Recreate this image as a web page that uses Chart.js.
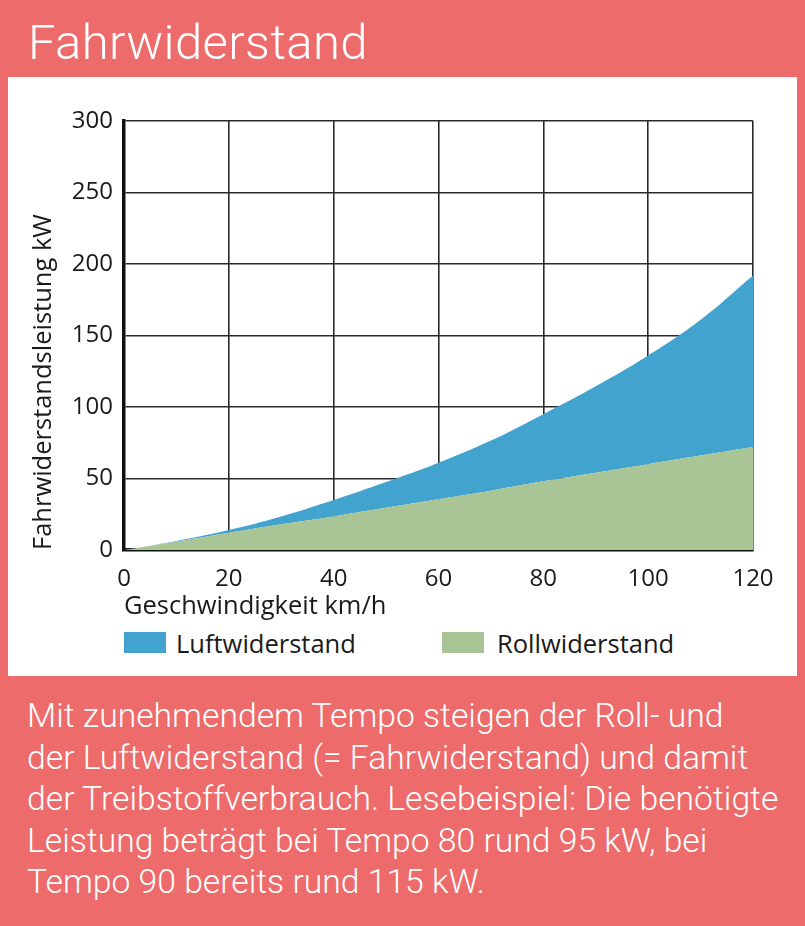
<!DOCTYPE html>
<html>
<head>
<meta charset="utf-8">
<script src="https://cdn.jsdelivr.net/npm/chart.js@4.4.1/dist/chart.umd.min.js"></script>
<style>
  html, body { margin: 0; padding: 0; }
  body { width: 805px; height: 926px; background: #ED6B6B; position: relative; overflow: hidden; font-family: "Open Sans", sans-serif; }
  #title { position: absolute; left: 28px; top: 18px; font-family: Roboto, sans-serif; font-weight: 300; font-size: 49px; line-height: 49px; letter-spacing: 0.35px; color: #fff; white-space: nowrap; }
  #panel { position: absolute; left: 8px; top: 77px; width: 789px; height: 599px; background: #fff; }
  #chart { position: absolute; left: 0; top: 78px; }
  .lg-box { position: absolute; top: 632px; width: 42px; height: 21px; }
  .lg-text { position: absolute; top: 628px; font-size: 25.5px; line-height: 30px; color: #1a1a1a; white-space: nowrap; }
  #caption { position: absolute; left: 27px; top: 695px; font-family: Roboto, sans-serif; font-weight: 300; font-size: 33.7px; line-height: 41.5px; color: #fff; white-space: nowrap; }
</style>
</head>
<body>
<div id="title">Fahrwiderstand</div>
<div id="panel"></div>
<canvas id="chart" width="805" height="544"></canvas>
<div id="legend"></div>
<div id="caption">Mit zunehmendem Tempo steigen der Roll- und<br>der Luftwiderstand (= Fahrwiderstand) und damit<br>der Treibstoffverbrauch. Lesebeispiel: Die benötigte<br>Leistung beträgt bei Tempo 80 rund 95 kW, bei<br>Tempo 90 bereits rund 115 kW.</div>
<script>
// Data
const speed = [0, 10, 20, 30, 40, 50, 60, 70, 80, 90, 100, 110, 120];               // km/h
const rollwiderstand = [0, 5.8, 12, 18, 23.5, 29.5, 35.5, 41.5, 48, 54, 60, 66, 72];  // kW
const fahrwiderstand = [0, 6.3, 14, 23.5, 35, 47.5, 61, 76.5, 95, 114.5, 136, 161, 192]; // kW, total (Roll + Luft)
const xTicks = [0, 20, 40, 60, 80, 100, 120];
const yTicks = [0, 50, 100, 150, 200, 250, 300];
const seriesNames = ['Luftwiderstand', 'Rollwiderstand'];
const seriesColors = ['#43A3CF', '#A9C495'];

const fontFam = '"Open Sans", sans-serif';
const ink = '#1a1a1a';

// HTML legend
const legend = document.getElementById('legend');
const lgX = [[124, 176], [442, 497]];
seriesNames.forEach((n, i) => {
  const b = document.createElement('div');
  b.className = 'lg-box'; b.style.left = lgX[i][0] + 'px'; b.style.background = seriesColors[i];
  const t = document.createElement('div');
  t.className = 'lg-text'; t.style.left = lgX[i][1] + 'px'; t.textContent = n;
  legend.appendChild(b); legend.appendChild(t);
});

const toPts = arr => speed.map((s, i) => ({ x: s, y: arr[i] }));

new Chart(document.getElementById('chart'), {
  type: 'line',
  data: {
    datasets: [
      {
        label: seriesNames[1],
        data: toPts(rollwiderstand),
        borderWidth: 0,
        pointRadius: 0,
        backgroundColor: seriesColors[1],
        fill: 'origin',
        tension: 0.4
      },
      {
        label: seriesNames[0],
        data: toPts(fahrwiderstand),
        borderWidth: 0,
        pointRadius: 0,
        backgroundColor: seriesColors[0],
        fill: '-1',
        tension: 0.4
      }
    ]
  },
  options: {
    responsive: false,
    animation: false,
    layout: { padding: { top: 43, right: 52, left: 0, bottom: 0 } },
    plugins: { legend: { display: false }, tooltip: { enabled: false } },
    scales: {
      x: {
        type: 'linear', min: 0, max: 120, z: 1,
        afterBuildTicks: s => { s.ticks = xTicks.map(v => ({ value: v })); },
        afterFit: s => { s.height = 72; },
        grid: { color: '#2a2a2a', lineWidth: 1.6, drawTicks: false },
        border: { color: '#111', width: 3.5 },
        ticks: { color: ink, font: { family: fontFam, size: 24 }, padding: 15, maxRotation: 0 },
        title: { display: true, text: 'Geschwindigkeit km/h', align: 'start', color: ink, font: { family: fontFam, size: 25.5 }, padding: { top: 0, bottom: 0 } }
      },
      y: {
        type: 'linear', min: 0, max: 300, z: 1,
        afterBuildTicks: s => { s.ticks = yTicks.map(v => ({ value: v })); },
        afterFit: s => { s.width = 124; },
        grid: { color: '#2a2a2a', lineWidth: 1.6, drawTicks: false },
        border: { color: '#111', width: 3.5 },
        ticks: { color: ink, font: { family: fontFam, size: 24 }, padding: 11 },
        title: { display: true, text: 'Fahrwiderstandsleistung kW', align: 'start', color: ink, font: { family: fontFam, size: 25.5 }, padding: { top: 28, bottom: 0 } }
      }
    }
  }
});
</script>
</body>
</html>
